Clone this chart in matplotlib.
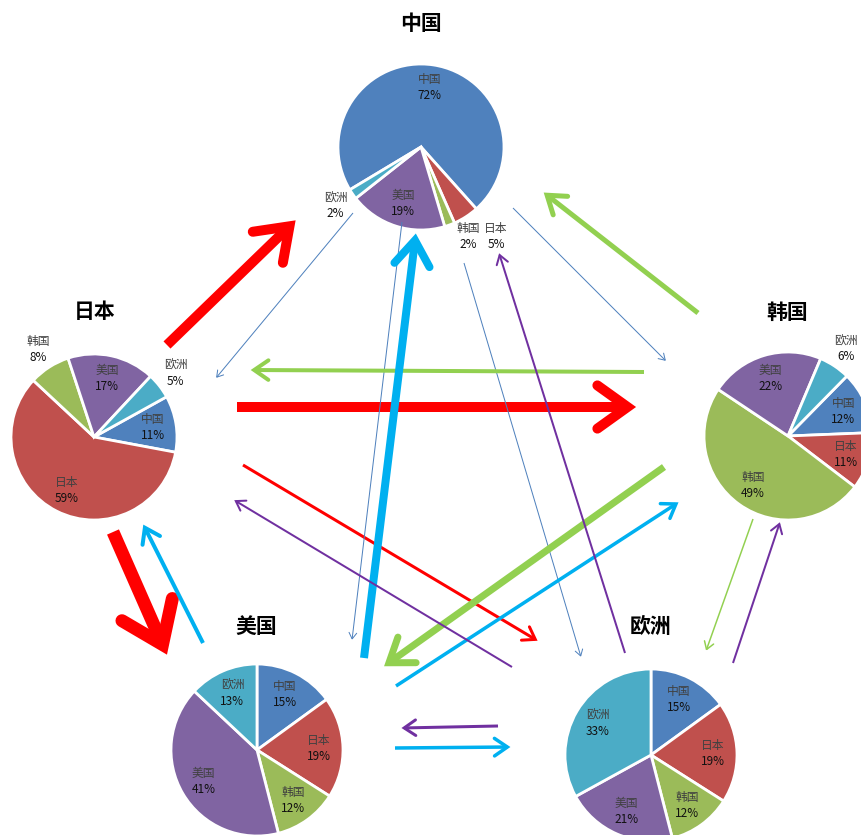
import numpy as np
import matplotlib
matplotlib.use("Agg")
from matplotlib import pyplot as plt

plt.rcParams['font.family'] = ['Noto Sans CJK SC', 'DejaVu Sans']

W, H = 862, 835

regions = ['中国', '日本', '韩国', '美国', '欧洲']

# share of each region's trade going to 中国, 日本, 韩国, 美国, 欧洲 (%)
china_share = [72, 5, 2, 19, 2]
japan_share = [11, 59, 8, 17, 5]
korea_share = [12, 11, 49, 22, 6]
usa_share = [15, 19, 12, 41, 13]
europe_share = [15, 19, 12, 21, 33]

shares = {'中国': china_share, '日本': japan_share, '韩国': korea_share,
          '美国': usa_share, '欧洲': europe_share}

# flows between regions: (from, to, strength)
flows = [
    ('日本', '中国', 10), ('日本', '韩国', 10), ('日本', '美国', 13), ('日本', '欧洲', 3),
    ('中国', '日本', 1), ('中国', '韩国', 1), ('中国', '美国', 1), ('中国', '欧洲', 1),
    ('韩国', '中国', 5), ('韩国', '日本', 4), ('韩国', '美国', 7), ('韩国', '欧洲', 1.5),
    ('美国', '中国', 8), ('美国', '日本', 4), ('美国', '韩国', 3.5), ('美国', '欧洲', 3.5),
    ('欧洲', '中国', 2), ('欧洲', '日本', 2), ('欧洲', '韩国', 2), ('欧洲', '美国', 3),
]

slice_colors = ['#4F81BD', '#C0504D', '#9BBB59', '#8064A2', '#4BACC6']
flow_colors = {'中国': '#4F81BD', '日本': '#FF0000', '韩国': '#92D050',
               '美国': '#00B0F0', '欧洲': '#7030A0'}

# pie placement in pixels: centre x, centre y (from top), radius, start angle (clockwise from 12 o'clock)
pie_layout = {
    '中国': (421, 147, 83, 239),
    '日本': (94, 437, 83, 61),
    '韩国': (788, 436, 84, 44.5),
    '美国': (257, 750, 86, 0),
    '欧洲': (651, 755, 86, 0),
}
title_pos = {'中国': (421, 23), '日本': (95, 312), '韩国': (787, 312),
             '美国': (256, 626), '欧洲': (651, 626)}
label_nudge = {('中国', '日本'): (-7, 1.41), ('中国', '韩国'): (-7.5, 1.22)}

# arrow tail / tip in pixels (from top)
arrow_ends = {
    ('日本', '中国'): ((167, 345), (297, 219)),
    ('日本', '韩国'): ((237, 407), (638, 407)),
    ('日本', '美国'): ((113, 532), (168, 657)),
    ('日本', '欧洲'): ((243, 465), (538, 641)),
    ('中国', '日本'): ((353, 213), (216, 378)),
    ('中国', '韩国'): ((513, 208), (666, 361)),
    ('中国', '美国'): ((402, 222), (352, 640)),
    ('中国', '欧洲'): ((464, 263), (581, 657)),
    ('韩国', '中国'): ((698, 313), (543, 192)),
    ('韩国', '日本'): ((644, 372), (250, 370)),
    ('韩国', '美国'): ((664, 467), (383, 667)),
    ('韩国', '欧洲'): ((753, 519), (706, 651)),
    ('美国', '中国'): ((364, 658), (416, 232)),
    ('美国', '日本'): ((203, 643), (143, 524)),
    ('美国', '韩国'): ((396, 686), (679, 502)),
    ('美国', '欧洲'): ((395, 748), (511, 747)),
    ('欧洲', '中国'): ((625, 653), (499, 253)),
    ('欧洲', '日本'): ((512, 667), (234, 500)),
    ('欧洲', '韩国'): ((733, 663), (780, 522)),
    ('欧洲', '美国'): ((498, 726), (401, 728)),
}

PX = 72 / 100  # points per pixel


def draw_arrow(ax, p0, p1, w, color):
    x0, y0 = p0[0], H - p0[1]
    x1, y1 = p1[0], H - p1[1]
    d = np.array([x0 - x1, y0 - y1], dtype=float)
    d /= np.hypot(*d)
    arm = 4.2 * w + 4
    a = np.radians(28)
    r1 = np.array([d[0] * np.cos(a) - d[1] * np.sin(a), d[0] * np.sin(a) + d[1] * np.cos(a)])
    r2 = np.array([d[0] * np.cos(a) + d[1] * np.sin(a), -d[0] * np.sin(a) + d[1] * np.cos(a)])
    # pull the vertex back so the mitred point lands on the tip
    tip = np.array([x1, y1]) + d * w * 1.05
    ax.plot([x0, tip[0]], [y0, tip[1]], color=color, lw=w * PX,
            solid_capstyle='butt', zorder=3)
    e1 = np.array([x1, y1]) + r1 * arm
    e2 = np.array([x1, y1]) + r2 * arm
    ax.plot([e1[0], tip[0], e2[0]], [e1[1], tip[1], e2[1]], color=color, lw=w * PX,
            solid_capstyle='round', solid_joinstyle='miter', zorder=3)


fig = plt.figure(figsize=(W / 100, H / 100), dpi=100)
ax = fig.add_axes([0, 0, 1, 1])

for name in regions:
    cx, cy, r, start = pie_layout[name]
    vals = shares[name]
    ax.pie(vals, colors=slice_colors, startangle=90 - start, counterclock=False,
           center=(cx, H - cy), radius=r, frame=True,
           wedgeprops=dict(edgecolor='white', linewidth=2))
    ang = start
    for target, v in zip(regions, vals):
        mid = ang + v * 3.6 / 2
        ang += v * 3.6
        f = 0.72 if v >= 9 else 1.25
        if (name, target) in label_nudge:
            da, f = label_nudge[(name, target)]
            mid += da
        lx = cx + f * r * np.sin(np.radians(mid))
        ly = cy - f * r * np.cos(np.radians(mid))
        ax.text(lx, H - ly + 8, target, ha='center', va='center', fontsize=8.5,
                color='#404040', zorder=5)
        ax.text(lx, H - ly - 8, f'{v}%', ha='center', va='center', fontsize=8.5,
                color='#111111', zorder=5)
    tx, ty = title_pos[name]
    ax.text(tx, H - ty, name, ha='center', va='center', fontsize=15,
            fontweight='bold', color='black', zorder=5)

for src, dst, w in flows:
    p0, p1 = arrow_ends[(src, dst)]
    draw_arrow(ax, p0, p1, w, flow_colors[src])

ax.set_xlim(0, W)
ax.set_ylim(0, H)
ax.set_aspect('auto')
ax.axis('off')

fig.savefig('out.png', dpi=100, facecolor='white')
